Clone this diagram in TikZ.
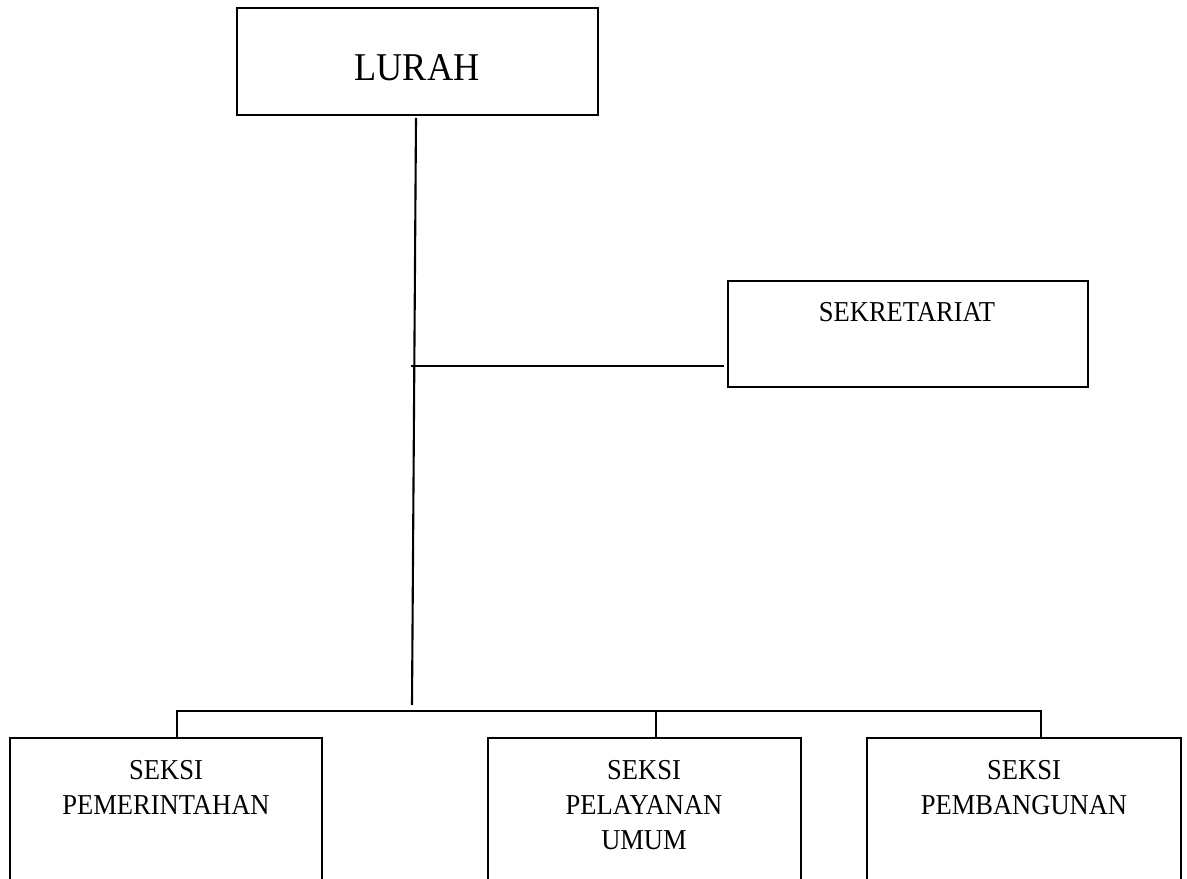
\documentclass[tikz,border=0pt]{standalone}
\usepackage{fontspec}
\setmainfont[FakeStretch=0.92]{Liberation Serif}
\begin{document}
\begin{tikzpicture}[x=0.01cm, y=-0.01cm, line width=0.6pt,
        box/.style={draw, rectangle, inner sep=0pt, outer sep=0pt, anchor=north west},
        txt/.style={inner sep=0pt, anchor=north, align=center, font=\fontsize{8.2}{9.96}\selectfont},
        bigtxt/.style={txt, font=\fontsize{11.2}{13}\selectfont}]
            \useasboundingbox (0, 0) rectangle (1187, 879);
            \clip (0, 0) rectangle (1187, 879);
            \node[box, minimum width=3.61cm, minimum height=1.07cm] (lurah) at (237, 8) {};
            \node[box, minimum width=3.60cm, minimum height=1.06cm] (sekre) at (728, 281) {};
            \node[box, minimum width=3.12cm, minimum height=1.80cm] (pem) at (10, 738) {};
            \node[box, minimum width=3.13cm, minimum height=1.80cm] (pel) at (488, 738) {};
            \node[box, minimum width=3.14cm, minimum height=1.80cm] (pbg) at (867, 738) {};
            \node[bigtxt] (lurahtxt) at (417, 53) {LURAH};
            \node[txt] (sekretxt) at (907, 301) {SEKRETARIAT};
            \node[txt] (pemtxt) at (166, 759) {SEKSI\\PEMERINTAHAN};
            \node[txt] (peltxt) at (644, 759) {SEKSI\\PELAYANAN\\UMUM};
            \node[txt] (pbgtxt) at (1024, 759) {SEKSI\\PEMBANGUNAN};
            \coordinate (stemtop) at (416, 118);
            \coordinate (stembot) at (412, 705);
            \coordinate (branch) at (411, 366);
            \coordinate (busl) at (177, 711);
            \coordinate (busm) at (656, 711);
            \coordinate (busr) at (1041, 711);
            \draw (stemtop) -- (stembot);
            \draw (branch) -- ([xshift=-0.04cm]branch -| sekre.west);
            \draw (busl |- pem.north) -- (busl) -- (busr) -- (busr |- pbg.north);
            \draw (busm) -- (busm |- pel.north);
        \end{tikzpicture}
\end{document}
